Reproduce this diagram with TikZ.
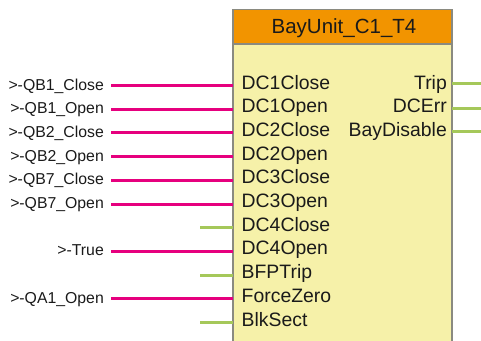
\documentclass[tikz,border=0pt]{standalone}
\usepackage{fontspec}
\setmainfont{Liberation Sans}
\definecolor{hdrc}{HTML}{F29400}
\definecolor{bodyc}{HTML}{F6F1A9}
\definecolor{edgec}{HTML}{8A8A80}
\definecolor{magc}{HTML}{E6007E}
\definecolor{grnc}{HTML}{A5C85A}
\definecolor{txtc}{HTML}{1A1A1A}
\begin{document}
\begin{tikzpicture}[x=1bp,y=-1bp,
  portlbl/.style={font=\fontsize{19.4bp}{20bp}\selectfont, inner sep=0pt, anchor=base west, text=txtc},
  outlbl/.style={font=\fontsize{19.4bp}{20bp}\selectfont, inner sep=0pt, anchor=base east, text=txtc},
  siglbl/.style={font=\fontsize{15.8bp}{16bp}\selectfont, inner sep=0pt, anchor=base east, text=txtc},
  magw/.style={draw=magc, line width=3bp},
  grnw/.style={draw=grnc, line width=3bp},
  boxbody/.style={fill=bodyc, draw=edgec, line width=1.5bp, minimum width=219bp, minimum height=345bp, anchor=north west, inner sep=0pt, outer sep=0pt},
  boxhead/.style={fill=hdrc, draw=edgec, line width=1.5bp, minimum width=219bp, minimum height=34.5bp, anchor=north west, inner sep=0pt, outer sep=0pt},
  titlelbl/.style={font=\fontsize{20.5bp}{21bp}\selectfont, inner sep=0pt, anchor=base, text=txtc}]
\useasboundingbox (0,0) rectangle (481,340);
\clip (0,0) rectangle (481,340);

% block
\node[boxbody] (box) at (233,9.5) {};
\node[boxhead] (head) at (233,9.5) {};
\node[titlelbl] (title) at (344,33.5) {BayUnit\_C1\_T4};

% left port coordinates
\coordinate (p0) at (233,85.5);
\coordinate (p1) at (233,109.2);
\coordinate (p2) at (233,132.9);
\coordinate (p3) at (233,156.6);
\coordinate (p4) at (233,180.3);
\coordinate (p5) at (233,204.0);
\coordinate (p6) at (233,227.7);
\coordinate (p7) at (233,251.4);
\coordinate (p8) at (233,275.1);
\coordinate (p9) at (233,298.8);
\coordinate (p10) at (233,322.5);

% port labels
\node[portlbl] (n0) at (241.5,89) {DC1Close};
\node[portlbl] (n1) at (241.5,112.7) {DC1Open};
\node[portlbl] (n2) at (241.5,136.4) {DC2Close};
\node[portlbl] (n3) at (241.5,160.1) {DC2Open};
\node[portlbl] (n4) at (241.5,183.8) {DC3Close};
\node[portlbl] (n5) at (241.5,207.5) {DC3Open};
\node[portlbl] (n6) at (241.5,231.2) {DC4Close};
\node[portlbl] (n7) at (241.5,254.9) {DC4Open};
\node[portlbl] (n8) at (241.5,278.6) {BFPTrip};
\node[portlbl] (n9) at (241.5,302.3) {ForceZero};
\node[portlbl] (n10) at (241.5,326) {BlkSect};

% signal labels
\node[siglbl] (s0) at (104,90) {>-QB1\_Close};
\node[siglbl] (s1) at (104,113.7) {>-QB1\_Open};
\node[siglbl] (s2) at (104,137.4) {>-QB2\_Close};
\node[siglbl] (s3) at (104,161.1) {>-QB2\_Open};
\node[siglbl] (s4) at (104,184.8) {>-QB7\_Close};
\node[siglbl] (s5) at (104,208.5) {>-QB7\_Open};
\node[siglbl] (s7) at (104,255.9) {>-True};
\node[siglbl] (s9) at (104,303.3) {>-QA1\_Open};

% free ends of input wires
\coordinate (a0) at (111,85.5);
\coordinate (a1) at (111,109.2);
\coordinate (a2) at (111,132.9);
\coordinate (a3) at (111,156.6);
\coordinate (a4) at (111,180.3);
\coordinate (a5) at (111,204.0);
\coordinate (a6) at (200,227.7);
\coordinate (a7) at (111,251.4);
\coordinate (a8) at (200,275.1);
\coordinate (a9) at (111,298.8);
\coordinate (a10) at (200,322.5);

\draw[magw] (a0) -- (p0);
\draw[magw] (a1) -- (p1);
\draw[magw] (a2) -- (p2);
\draw[magw] (a3) -- (p3);
\draw[magw] (a4) -- (p4);
\draw[magw] (a5) -- (p5);
\draw[grnw] (a6) -- (p6);
\draw[magw] (a7) -- (p7);
\draw[grnw] (a8) -- (p8);
\draw[magw] (a9) -- (p9);
\draw[grnw] (a10) -- (p10);

% outputs
\node[outlbl] (o0) at (447,89) {Trip};
\node[outlbl] (o1) at (447,112.7) {DCErr};
\node[outlbl] (o2) at (447,136.4) {BayDisable};
\coordinate (q0) at (452,83);
\coordinate (q1) at (452,108);
\coordinate (q2) at (452,131.5);
\coordinate (e0) at (486,83);
\coordinate (e1) at (486,108);
\coordinate (e2) at (486,131.5);
\draw[grnw] (q0) -- (e0);
\draw[grnw] (q1) -- (e1);
\draw[grnw] (q2) -- (e2);
\end{tikzpicture}
\end{document}
